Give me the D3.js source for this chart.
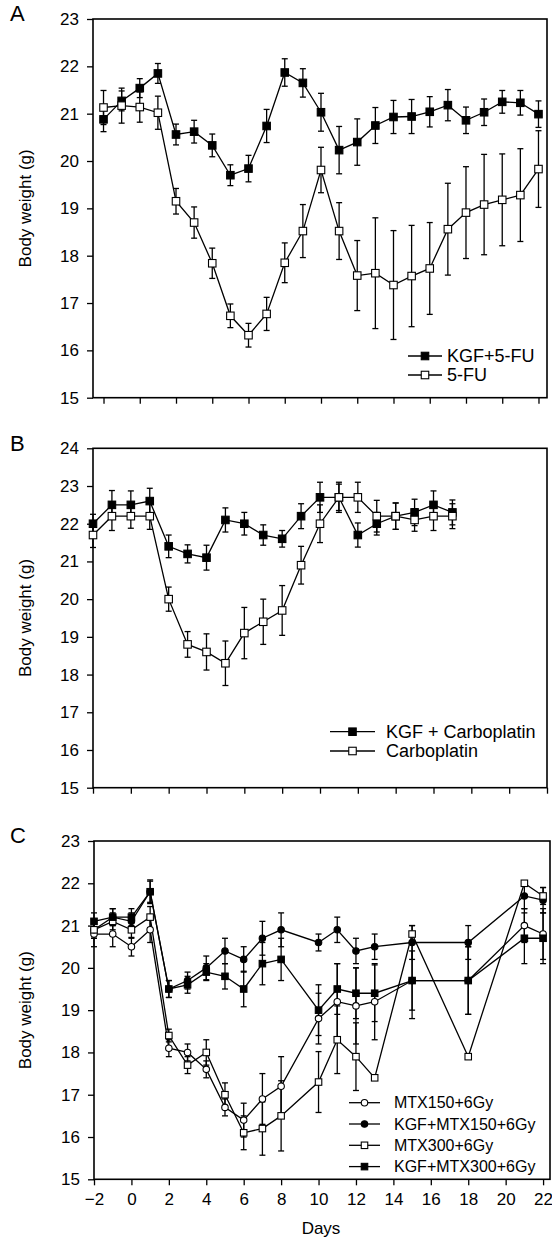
<!DOCTYPE html>
<html><head><meta charset="utf-8">
<script src="https://cdn.jsdelivr.net/npm/d3@7"></script>
<style>
body{margin:0;background:#fff}
svg{display:block}
text{font-family:"Liberation Sans",Arial,Helvetica,sans-serif;fill:#000}
</style>
</head><body>
<svg id="chart" width="552" height="1241"></svg>
<script>
// ---------- Panel A ----------
const daysA = [-2,-1,0,1,2,3,4,5,6,7,8,9,10,11,12,13,14,15,16,17,18,19,20,21,22];
const kgf5fu = [20.88,21.27,21.54,21.85,20.56,20.62,20.33,19.70,19.84,20.74,21.87,21.65,21.03,20.23,20.40,20.75,20.93,20.94,21.04,21.18,20.86,21.03,21.25,21.23,20.99];
const kgf5fuErr = [0.26,0.21,0.20,0.21,0.22,0.24,0.24,0.22,0.28,0.35,0.29,0.30,0.40,0.50,0.49,0.38,0.35,0.36,0.32,0.33,0.28,0.28,0.24,0.26,0.28];
const fu5 = [21.13,21.17,21.14,21.02,19.15,18.70,17.84,16.73,16.32,16.77,17.85,18.52,19.81,18.52,17.58,17.63,17.38,17.57,17.73,18.56,18.91,19.08,19.18,19.28,19.83];
const fu5Err = [0.36,0.37,0.32,0.35,0.27,0.33,0.32,0.25,0.25,0.35,0.42,0.56,0.48,0.60,0.74,1.17,1.15,1.07,0.97,0.97,0.97,1.06,0.97,0.98,0.81];
const namesA = ["KGF+5-FU","5-FU"];
const yTicksA = [15,16,17,18,19,20,21,22,23];
const xTicksAB = [-2,0,2,4,6,8,10,12,14,16,18,20,22];

// ---------- Panel B ----------
const daysB = [-2,-1,0,1,2,3,4,5,6,7,8,9,10,11,12,13,14,15,16,17];
const kgfCarbo = [22.0,22.5,22.5,22.6,21.4,21.2,21.1,22.1,22.0,21.7,21.6,22.2,22.7,22.7,21.7,22.0,22.2,22.3,22.5,22.3];
const kgfCarboErr = [0.25,0.38,0.37,0.34,0.30,0.24,0.33,0.32,0.30,0.27,0.22,0.33,0.40,0.35,0.32,0.30,0.35,0.35,0.37,0.33];
const carbo = [21.7,22.2,22.2,22.2,20.0,18.8,18.6,18.3,19.1,19.4,19.7,20.9,22.0,22.7,22.7,22.2,22.2,22.1,22.2,22.2];
const carboErr = [0.33,0.38,0.32,0.35,0.32,0.34,0.48,0.59,0.68,0.60,0.66,0.50,0.50,0.40,0.40,0.42,0.35,0.30,0.38,0.33];
const namesB = ["KGF + Carboplatin","Carboplatin"];
const yTicksB = [15,16,17,18,19,20,21,22,23,24];

// ---------- Panel C ----------
const daysC = [-2,-1,0,1,2,3,4,5,6,7,8,10,11,12,13,15,18,21,22];
const mtx150 = [20.8,20.8,20.5,20.9,18.1,18.0,17.6,16.7,16.4,16.9,17.2,18.8,19.2,19.1,19.2,19.7,19.7,21.0,20.8];
const mtx150Err = [0.3,0.3,0.22,0.3,0.2,0.2,0.2,0.2,0.4,0.6,0.7,0.6,0.9,0.9,0.9,0.9,0.8,0.4,0.6];
const kgfMtx150 = [20.9,21.2,21.1,21.8,19.5,19.7,20.0,20.4,20.2,20.7,20.9,20.6,20.9,20.4,20.5,20.6,20.6,21.7,21.6];
const kgfMtx150Err = [0.2,0.2,0.2,0.25,0.2,0.2,0.28,0.3,0.3,0.4,0.4,0.2,0.3,0.3,0.3,0.4,0.4,0.3,0.3];
const mtx300 = [20.9,21.1,20.9,21.2,18.4,17.7,18.0,17.0,16.1,16.2,16.5,17.3,18.3,17.9,17.4,20.8,17.9,22.0,21.7];
const mtx300Err = [0.2,0.2,0.2,0.25,0.15,0.2,0.3,0.28,0.4,0.63,0.83,0.72,0.8,0.8,0,0.2,0,0,0.2];
const kgfMtx300 = [21.1,21.2,21.2,21.8,19.5,19.6,19.9,19.8,19.5,20.1,20.2,19.0,19.5,19.4,19.4,19.7,19.7,20.7,20.7];
const kgfMtx300Err = [0.2,0.2,0.2,0.28,0.2,0.2,0.2,0.3,0.42,0.5,0.5,0.6,0.6,0.6,0.67,0.7,0.8,0.6,0.6];
const namesC = ["MTX150+6Gy","KGF+MTX150+6Gy","MTX300+6Gy","KGF+MTX300+6Gy"];
const yTicksC = [15,16,17,18,19,20,21,22,23];
const xTicksC = [-2,0,2,4,6,8,10,12,14,16,18,20,22];

const yTitle = "Body weight (g)";
const xTitle = "Days";

const svg = d3.select("#chart");

function marker(g, shape, filled, cx, cy, size){
  if(shape==="square"){
    g.append("rect").attr("x",cx-size/2).attr("y",cy-size/2).attr("width",size).attr("height",size)
      .attr("fill",filled?"#000":"#fff").attr("stroke","#000").attr("stroke-width",1.1);
  } else {
    g.append("circle").attr("cx",cx).attr("cy",cy).attr("r",size/2)
      .attr("fill",filled?"#000":"#fff").attr("stroke","#000").attr("stroke-width",1.1);
  }
}

function panel(o){
  const g = svg.append("g");
  const x = d3.scaleLinear().domain(o.xDomain).range([o.left,o.right]);
  const y = d3.scaleLinear().domain(o.yDomain).range([o.bottom,o.top]);

  // y axis
  const ya = g.append("g").attr("transform",`translate(${o.left},0)`)
    .call(d3.axisLeft(y).tickValues(o.yTicks).tickSize(6).tickSizeOuter(0).tickPadding(8).tickFormat(d3.format("d")));
  ya.select(".domain").remove();
  ya.selectAll("line").attr("stroke","#000").attr("stroke-width",1.3);
  ya.selectAll("text").style("font-size","17px").attr("font-family",null);

  // x axis
  const xAxis = d3.axisBottom(x).tickValues(o.xTicks).tickSize(6).tickSizeOuter(0).tickPadding(8);
  if(!o.xLabels) xAxis.tickFormat(""); else xAxis.tickFormat(d3.format("d"));
  const xa = g.append("g").attr("transform",`translate(0,${o.bottom})`).call(xAxis);
  xa.select(".domain").remove();
  xa.selectAll("line").attr("stroke","#000").attr("stroke-width",1.3);
  xa.selectAll("text").style("font-size","17px").attr("font-family",null);

  // frame
  g.append("rect").attr("x",o.left).attr("y",o.top).attr("width",o.right-o.left).attr("height",o.bottom-o.top)
    .attr("fill","none").attr("stroke","#000").attr("stroke-width",1.6);

  // series lines
  const line = d3.line().x(d=>x(d[0])).y(d=>y(d[1]));
  o.series.forEach(s=>{
    const pts = s.days.map((d,i)=>[d,s.values[i]]);
    g.append("path").attr("d",line(pts)).attr("fill","none").attr("stroke","#000").attr("stroke-width",1.3);
  });
  // error bars
  o.series.forEach(s=>{
    s.days.forEach((d,i)=>{
      const e = s.err[i]; if(!e) return;
      const cx = x(d), y1 = y(s.values[i]+e), y2 = y(s.values[i]-e);
      g.append("line").attr("x1",cx).attr("x2",cx).attr("y1",y1).attr("y2",y2).attr("stroke","#000").attr("stroke-width",1.3);
      [y1,y2].forEach(yy=>g.append("line").attr("x1",cx-3).attr("x2",cx+3).attr("y1",yy).attr("y2",yy).attr("stroke","#000").attr("stroke-width",1.3));
    });
  });
  // markers
  o.series.forEach(s=>{
    s.days.forEach((d,i)=>marker(g,s.shape,s.filled,x(d),y(s.values[i]),s.size));
  });

  // legend
  o.series.forEach((s,i)=>{
    const ly = o.legend.y0 + i*o.legend.dy;
    g.append("line").attr("x1",o.legend.x1).attr("x2",o.legend.x2).attr("y1",ly).attr("y2",ly).attr("stroke","#000").attr("stroke-width",1.3);
    marker(g,s.shape,s.filled,(o.legend.x1+o.legend.x2)/2,ly,s.size);
    g.append("text").attr("x",o.legend.tx).attr("y",ly).attr("dy","0.36em").style("font-size",o.legend.fs+"px").text(s.name);
  });

  // panel letter
  g.append("text").attr("x",10).attr("y",o.top+o.letterDy).style("font-size","22px").text(o.letter);
  // y title
  g.append("text").attr("transform",`translate(31,${(o.top+o.bottom)/2}) rotate(-90)`).attr("text-anchor","middle")
    .style("font-size","17px").text(yTitle);
  return {x,y};
}

panel({
  letter:"A", letterDy:2, left:93, right:547, top:19, bottom:397.7,
  xDomain:[-2.58,22.47], yDomain:[15,23], yTicks:yTicksA, xTicks:xTicksAB, xLabels:false,
  series:[
    {name:namesA[0], days:daysA, values:kgf5fu, err:kgf5fuErr, shape:"square", filled:true, size:7.5},
    {name:namesA[1], days:daysA, values:fu5, err:fu5Err, shape:"square", filled:false, size:7.5}
  ],
  legend:{x1:408, x2:442, tx:447, y0:356, dy:19, fs:18}
});

panel({
  letter:"B", letterDy:3, left:93, right:547, top:448.3, bottom:787.7,
  xDomain:[-2,22], yDomain:[15,24], yTicks:yTicksB, xTicks:xTicksAB, xLabels:false,
  series:[
    {name:namesB[0], days:daysB, values:kgfCarbo, err:kgfCarboErr, shape:"square", filled:true, size:7.5},
    {name:namesB[1], days:daysB, values:carbo, err:carboErr, shape:"square", filled:false, size:7.5}
  ],
  legend:{x1:330, x2:375, tx:386, y0:731.7, dy:19.3, fs:18}
});

const pc = panel({
  letter:"C", letterDy:2, left:94, right:550, top:841, bottom:1179.3,
  xDomain:[-2,22.37], yDomain:[15,23], yTicks:yTicksC, xTicks:xTicksC, xLabels:true,
  series:[
    {name:namesC[0], days:daysC, values:mtx150, err:mtx150Err, shape:"circle", filled:false, size:6.5},
    {name:namesC[1], days:daysC, values:kgfMtx150, err:kgfMtx150Err, shape:"circle", filled:true, size:6.5},
    {name:namesC[2], days:daysC, values:mtx300, err:mtx300Err, shape:"square", filled:false, size:6.5},
    {name:namesC[3], days:daysC, values:kgfMtx300, err:kgfMtx300Err, shape:"square", filled:true, size:6.5}
  ],
  legend:{x1:349, x2:380, tx:394, y0:1102.7, dy:21.3, fs:16}
});

svg.append("text").attr("x",321).attr("y",1234).attr("text-anchor","middle").style("font-size","17px").text(xTitle);
</script>
</body></html>
